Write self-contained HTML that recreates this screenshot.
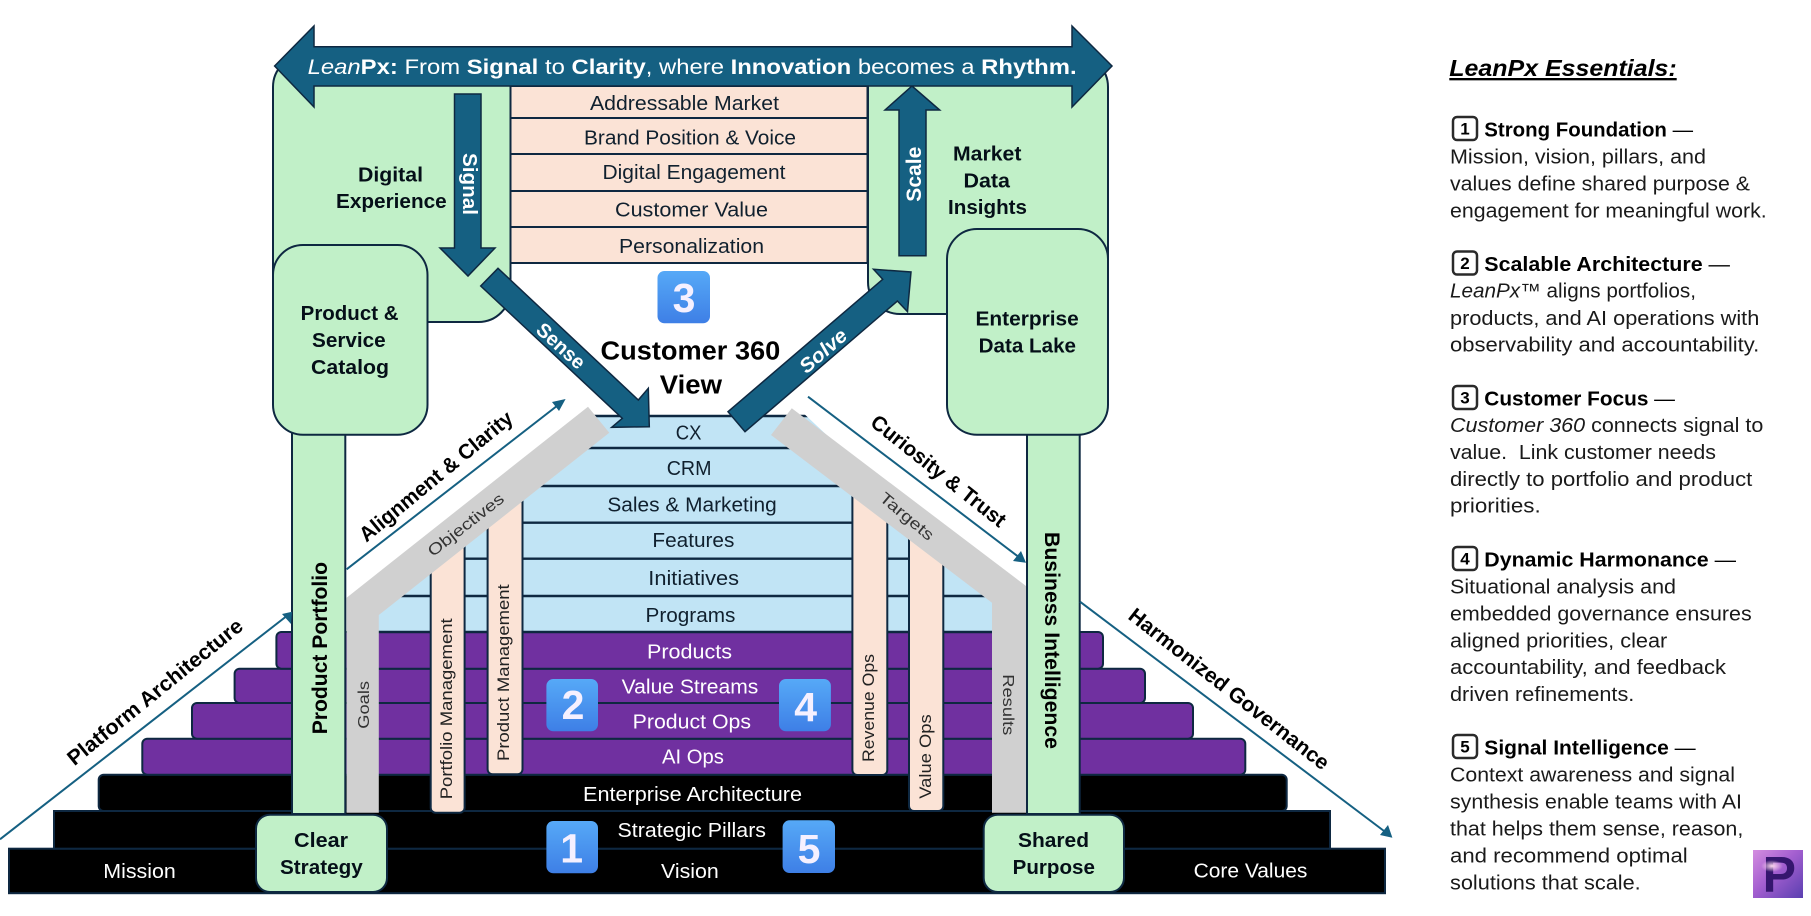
<!DOCTYPE html>
<html lang="en">
<head>
<meta charset="utf-8">
<title>LeanPx Essentials</title>
<style>
html,body{margin:0;padding:0;background:#fff;width:1811px;height:916px;overflow:hidden}
svg{display:block;filter:blur(.35px)}
text{font-family:"Liberation Sans",sans-serif}
.r{font-size:20px;fill:#10202e}
.w{font-size:20px;fill:#fff}
.b{font-size:20px;font-weight:700;fill:#050f18}
.box{fill:#c1f0c8;stroke:#0e2841;stroke-width:2}
.peach{fill:#fbe3d6;stroke:#0e2841;stroke-width:2}
.blue{fill:#c1e4f5}
.sep{stroke:#0e2841;stroke-width:2.4}
.pur{fill:#7030a0;stroke:#0e2841;stroke-width:2}
.blk{fill:#000;stroke:#0e2841;stroke-width:2}
.arr{fill:#156082;stroke:#0e2841;stroke-width:1.5}
.thin{stroke:#156082;stroke-width:2;fill:none}
.v{font-size:17px;fill:#222}
.g{font-size:16px;fill:#333}
.dg{font-size:41px;font-weight:700;fill:#f5f0ff;text-anchor:middle}
.dia{font-size:21px;font-weight:700;fill:#000;text-anchor:middle}
.p{font-size:20px;fill:#1a1a1a}
.h{font-size:20px;font-weight:700;fill:#000}
.ic{fill:#fff;stroke:#2a2a2a;stroke-width:2.5}
.in{font-size:17px;font-weight:700;text-anchor:middle;fill:#000}
</style>
</head>
<body>
<svg width="1811" height="916" viewBox="0 0 1811 916" xmlns="http://www.w3.org/2000/svg">
<defs>
<linearGradient id="bd" x1="0" y1="0" x2="0" y2="1"><stop offset="0" stop-color="#56a9f7"/><stop offset="1" stop-color="#3e7fe6"/></linearGradient>
<linearGradient id="lg" x1="0" y1="0" x2="1" y2="1"><stop offset="0" stop-color="#d48de0"/><stop offset="0.45" stop-color="#a45fd0"/><stop offset="1" stop-color="#5a3fb0"/></linearGradient>
<radialGradient id="glow" cx="0.5" cy="0.5" r="0.5"><stop offset="0" stop-color="#ffd9f0"/><stop offset="1" stop-color="#ffd9f0" stop-opacity="0"/></radialGradient>
<clipPath id="bc"><polygon points="590,410 800,410 992,590 992,640 378,640 378,600"/></clipPath>
</defs>

<!-- top boxes -->
<rect class="box" x="273" y="55" width="237.5" height="267" rx="32"/>
<rect class="box" x="868" y="55" width="240" height="259" rx="32"/>

<!-- peach rows -->
<rect class="peach" x="510.5" y="86" width="357" height="32"/>
<rect class="peach" x="510.5" y="118" width="357" height="36"/>
<rect class="peach" x="510.5" y="154" width="357" height="37"/>
<rect class="peach" x="510.5" y="191" width="357" height="36"/>
<rect class="peach" x="510.5" y="227" width="357" height="36"/>
<text class="r" x="590" y="110" textLength="189" lengthAdjust="spacingAndGlyphs">Addressable Market</text>
<text class="r" x="584" y="144.5" textLength="212" lengthAdjust="spacingAndGlyphs">Brand Position &amp; Voice</text>
<text class="r" x="602.5" y="179" textLength="183" lengthAdjust="spacingAndGlyphs">Digital Engagement</text>
<text class="r" x="615" y="216.5" textLength="153" lengthAdjust="spacingAndGlyphs">Customer Value</text>
<text class="r" x="619" y="253" textLength="145" lengthAdjust="spacingAndGlyphs">Personalization</text>

<!-- stairs -->
<rect class="blk" x="9" y="848.7" width="1376" height="44.5"/>
<rect class="blk" x="54" y="811" width="1276" height="37.7"/>
<rect class="blk" x="98.7" y="774.7" width="1188" height="36.3" rx="5"/>
<rect class="pur" x="142.3" y="738.7" width="1103" height="36" rx="5"/>
<rect class="pur" x="192" y="703" width="1001" height="35.7" rx="5"/>
<rect class="pur" x="234.6" y="668.7" width="910.4" height="34.3" rx="5"/>
<rect class="pur" x="276.4" y="632" width="826.6" height="36.7" rx="5"/>

<!-- blue rows -->
<g clip-path="url(#bc)">
<rect class="blue" x="378" y="416" width="614" height="216"/>
<line class="sep" x1="378" y1="416" x2="992" y2="416"/>
<line class="sep" x1="378" y1="448" x2="992" y2="448"/>
<line class="sep" x1="378" y1="486" x2="992" y2="486"/>
<line class="sep" x1="378" y1="522.7" x2="992" y2="522.7"/>
<line class="sep" x1="378" y1="558.7" x2="992" y2="558.7"/>
<line class="sep" x1="378" y1="596" x2="992" y2="596"/>
</g>
<line class="sep" x1="378" y1="632" x2="992" y2="632"/>

<text class="r" x="675.8" y="439.3" textLength="25.7" lengthAdjust="spacingAndGlyphs">CX</text>
<text class="r" x="666.7" y="475" textLength="44.8" lengthAdjust="spacingAndGlyphs">CRM</text>
<text class="r" x="607.4" y="511.7" textLength="169.3" lengthAdjust="spacingAndGlyphs">Sales &amp; Marketing</text>
<text class="r" x="652.4" y="547" textLength="82" lengthAdjust="spacingAndGlyphs">Features</text>
<text class="r" x="648.3" y="585" textLength="90.7" lengthAdjust="spacingAndGlyphs">Initiatives</text>
<text class="r" x="645.5" y="622" textLength="89.9" lengthAdjust="spacingAndGlyphs">Programs</text>
<text class="w" x="647" y="658.7" textLength="85" lengthAdjust="spacingAndGlyphs">Products</text>
<text class="w" x="621.7" y="693.3" textLength="136.6" lengthAdjust="spacingAndGlyphs">Value Streams</text>
<text class="w" x="632.7" y="728.3" textLength="118.3" lengthAdjust="spacingAndGlyphs">Product Ops</text>
<text class="w" x="662" y="763.7" textLength="61.9" lengthAdjust="spacingAndGlyphs">AI Ops</text>
<text class="w" x="583" y="801" textLength="219" lengthAdjust="spacingAndGlyphs">Enterprise Architecture</text>
<text class="w" x="617.5" y="837" textLength="148.5" lengthAdjust="spacingAndGlyphs">Strategic Pillars</text>
<text class="w" x="661" y="878" textLength="57.8" lengthAdjust="spacingAndGlyphs">Vision</text>
<text class="w" x="103.3" y="878" textLength="72.5" lengthAdjust="spacingAndGlyphs">Mission</text>
<text class="w" x="1193.6" y="877.7" textLength="113.8" lengthAdjust="spacingAndGlyphs">Core Values</text>

<!-- peach verticals -->
<rect class="peach" x="430.7" y="540" width="33.9" height="272.7" rx="5"/>
<rect class="peach" x="487.6" y="495" width="34.9" height="279.3" rx="5"/>
<rect class="peach" x="852.4" y="489" width="34.9" height="286" rx="5"/>
<rect class="peach" x="909" y="531" width="34.3" height="280" rx="5"/>
<text class="v" transform="translate(452,799.3) rotate(-90)" textLength="181" lengthAdjust="spacingAndGlyphs">Portfolio Management</text>
<text class="v" transform="translate(509,761) rotate(-90)" textLength="176.7" lengthAdjust="spacingAndGlyphs">Product Management</text>
<text class="v" transform="translate(874,762) rotate(-90)" textLength="108" lengthAdjust="spacingAndGlyphs">Revenue Ops</text>
<text class="v" transform="translate(931,798.7) rotate(-90)" textLength="84.4" lengthAdjust="spacingAndGlyphs">Value Ops</text>

<!-- gray roofs -->
<polygon points="588,406.7 609.3,432.7 378.8,615 378.8,812.7 346.6,812.7 346.6,597.7" fill="#d0d0d0"/>
<polygon points="791.8,408.3 1026,586 1026,812.7 992,812.7 992,602.7 771,435" fill="#d0d0d0"/>
<text class="g" transform="translate(466,525) rotate(-38)" text-anchor="middle" dy="5" textLength="92" lengthAdjust="spacingAndGlyphs">Objectives</text>
<text class="g" transform="translate(906.6,516.7) rotate(40)" text-anchor="middle" dy="5" textLength="65" lengthAdjust="spacingAndGlyphs">Targets</text>
<text class="g" transform="translate(369,728.7) rotate(-90)" textLength="47.7" lengthAdjust="spacingAndGlyphs">Goals</text>
<text class="g" transform="translate(1003,674.3) rotate(90)" textLength="61" lengthAdjust="spacingAndGlyphs">Results</text>

<!-- pillars -->
<rect class="box" x="292" y="430" width="53.3" height="384"/>
<rect class="box" x="1027" y="430" width="52.7" height="384"/>
<text style="font-size:21px;font-weight:700;fill:#000" transform="translate(327,734.3) rotate(-90)" textLength="172.3" lengthAdjust="spacingAndGlyphs">Product Portfolio</text>
<text style="font-size:21px;font-weight:700;fill:#000" transform="translate(1045,532) rotate(90)" textLength="217" lengthAdjust="spacingAndGlyphs">Business Intelligence</text>

<!-- green boxes -->
<rect class="box" x="273" y="245" width="154.5" height="189.7" rx="30"/>
<rect class="box" x="947" y="229" width="161" height="205.7" rx="30"/>
<rect class="box" x="256" y="814.7" width="131" height="77.3" rx="14"/>
<rect class="box" x="983.7" y="814.7" width="140.3" height="77.3" rx="14"/>

<text class="b" x="358" y="181.7" textLength="65" lengthAdjust="spacingAndGlyphs">Digital</text>
<text class="b" x="336" y="208" textLength="110.7" lengthAdjust="spacingAndGlyphs">Experience</text>
<text class="b" x="300.7" y="320" textLength="97.8" lengthAdjust="spacingAndGlyphs">Product &amp;</text>
<text class="b" x="312" y="347" textLength="73.7" lengthAdjust="spacingAndGlyphs">Service</text>
<text class="b" x="311" y="374" textLength="78" lengthAdjust="spacingAndGlyphs">Catalog</text>
<text class="b" x="953" y="160.7" textLength="68.4" lengthAdjust="spacingAndGlyphs">Market</text>
<text class="b" x="963.5" y="187.7" textLength="46.5" lengthAdjust="spacingAndGlyphs">Data</text>
<text class="b" x="948" y="214" textLength="79" lengthAdjust="spacingAndGlyphs">Insights</text>
<text class="b" x="975.5" y="325.7" textLength="103.3" lengthAdjust="spacingAndGlyphs">Enterprise</text>
<text class="b" x="978.7" y="352.7" textLength="97.3" lengthAdjust="spacingAndGlyphs">Data Lake</text>
<text class="b" x="294" y="847" textLength="54" lengthAdjust="spacingAndGlyphs">Clear</text>
<text class="b" x="280" y="874" textLength="82.7" lengthAdjust="spacingAndGlyphs">Strategy</text>
<text class="b" x="1018" y="847" textLength="71" lengthAdjust="spacingAndGlyphs">Shared</text>
<text class="b" x="1012.7" y="874" textLength="82.2" lengthAdjust="spacingAndGlyphs">Purpose</text>

<text style="font-size:25.5px;font-weight:700;fill:#000" x="600.5" y="359.3" textLength="179.8" lengthAdjust="spacingAndGlyphs">Customer 360</text>
<text style="font-size:25.5px;font-weight:700;fill:#000" x="659.8" y="393.3" textLength="62.2" lengthAdjust="spacingAndGlyphs">View</text>

<!-- big arrows -->
<polygon class="arr" points="454.5,94 481,94 481,248 495,248 468,276 440,248 454.5,248"/>
<polygon class="arr" points="899,255.7 926,255.7 926,110 939.7,110 912,86 885,110 899,110"/>
<polygon class="arr" points="498,268.3 638.3,400 648.3,388.3 649.3,426.7 611.7,427.3 622.3,418.3 480.7,286"/>
<polygon class="arr" points="728,411.7 882.7,279.3 873.5,269.3 911,272 907.5,311.7 897.4,301 745,431.7"/>
<polygon class="arr" points="274.6,66 314,26 314,46.7 1072,46.7 1072,26 1112,66 1072,107 1072,86 314,86 314,107"/>

<text style="font-size:20px;font-weight:700;fill:#fff" transform="translate(463,153) rotate(90)" textLength="62" lengthAdjust="spacingAndGlyphs">Signal</text>
<text style="font-size:21px;font-weight:700;fill:#fff" transform="translate(921,201.7) rotate(-90)" textLength="55" lengthAdjust="spacingAndGlyphs">Scale</text>
<text style="font-size:20px;font-weight:700;fill:#fff" transform="translate(561,345.7) rotate(42)" text-anchor="middle" dy="7" textLength="58" lengthAdjust="spacingAndGlyphs">Sense</text>
<text style="font-size:20px;font-weight:700;font-style:italic;fill:#fff" transform="translate(823,350.7) rotate(-41)" text-anchor="middle" dy="7" textLength="56" lengthAdjust="spacingAndGlyphs">Solve</text>

<text x="307.6" y="74" style="font-size:21.5px;fill:#fff" textLength="769" lengthAdjust="spacingAndGlyphs"><tspan font-style="italic">Lean</tspan><tspan font-weight="700">Px:</tspan> From <tspan font-weight="700">Signal</tspan> to <tspan font-weight="700">Clarity</tspan>, where <tspan font-weight="700">Innovation</tspan> becomes a <tspan font-weight="700">Rhythm.</tspan></text>

<!-- badges -->
<rect x="657.5" y="271" width="52.5" height="52.3" rx="7" fill="url(#bd)"/>
<text class="dg" x="684" y="312">3</text>
<rect x="546.4" y="679" width="51.6" height="52.3" rx="7" fill="url(#bd)"/>
<text class="dg" x="573" y="719">2</text>
<rect x="546.4" y="821" width="51.6" height="52.3" rx="7" fill="url(#bd)"/>
<text class="dg" x="571.6" y="862.7">1</text>
<rect x="779" y="679" width="51.9" height="52.3" rx="7" fill="url(#bd)"/>
<text class="dg" x="805.6" y="721">4</text>
<rect x="782.6" y="820.3" width="52.4" height="52.7" rx="7" fill="url(#bd)"/>
<text class="dg" x="809" y="863">5</text>

<!-- thin diagonal arrows -->
<line class="thin" x1="0" y1="839.3" x2="288" y2="615"/>
<polygon points="292,611.7 291,624 282,614" fill="#156082"/>
<line class="thin" x1="346.6" y1="569.3" x2="562" y2="402"/>
<polygon points="565.6,399 559,411 552,402" fill="#156082"/>
<line class="thin" x1="808" y1="396.7" x2="1022" y2="559.5"/>
<polygon points="1026,562.7 1013,561 1021,551" fill="#156082"/>
<line class="thin" x1="1080" y1="601.7" x2="1388" y2="834"/>
<polygon points="1392.4,837.7 1380,835 1388,825" fill="#156082"/>

<text class="dia" transform="translate(155,692) rotate(-39)" dy="7" textLength="219" lengthAdjust="spacingAndGlyphs">Platform Architecture</text>
<text class="dia" transform="translate(436,476.4) rotate(-39.5)" dy="7" textLength="192" lengthAdjust="spacingAndGlyphs">Alignment &amp; Clarity</text>
<text class="dia" transform="translate(938.5,471) rotate(38.5)" dy="7" textLength="166" lengthAdjust="spacingAndGlyphs">Curiosity &amp; Trust</text>
<text class="dia" transform="translate(1229,689) rotate(38)" dy="7" textLength="248" lengthAdjust="spacingAndGlyphs">Harmonized Governance</text>

<!-- right panel -->
<text x="1449.3" y="76" style="font-size:23.5px;font-weight:700;font-style:italic;text-decoration:underline;fill:#000" textLength="227.4" lengthAdjust="spacingAndGlyphs">LeanPx Essentials:</text>

<rect class="ic" x="1453" y="117" width="24" height="23" rx="4"/><text class="in" x="1465" y="134.5">1</text>
<text class="h" x="1484.3" y="136.7" textLength="208.7" lengthAdjust="spacingAndGlyphs">Strong Foundation <tspan font-weight="400">—</tspan></text>
<text class="p" x="1450" y="163.3" textLength="256" lengthAdjust="spacingAndGlyphs">Mission, vision, pillars, and</text>
<text class="p" x="1450" y="190.3" textLength="300" lengthAdjust="spacingAndGlyphs">values define shared purpose &amp;</text>
<text class="p" x="1450" y="217.3" textLength="316.7" lengthAdjust="spacingAndGlyphs">engagement for meaningful work.</text>

<rect class="ic" x="1453" y="251.5" width="24" height="23" rx="4"/><text class="in" x="1465" y="269">2</text>
<text class="h" x="1484.3" y="271" textLength="245.7" lengthAdjust="spacingAndGlyphs">Scalable Architecture <tspan font-weight="400">—</tspan></text>
<text class="p" x="1450" y="297.7" textLength="246" lengthAdjust="spacingAndGlyphs"><tspan font-style="italic">LeanPx™</tspan> aligns portfolios,</text>
<text class="p" x="1450" y="325" textLength="309.3" lengthAdjust="spacingAndGlyphs">products, and AI operations with</text>
<text class="p" x="1450" y="351.7" textLength="309.3" lengthAdjust="spacingAndGlyphs">observability and accountability.</text>

<rect class="ic" x="1453" y="386" width="24" height="23" rx="4"/><text class="in" x="1465" y="403.5">3</text>
<text class="h" x="1484.3" y="405.3" textLength="190.7" lengthAdjust="spacingAndGlyphs">Customer Focus <tspan font-weight="400">—</tspan></text>
<text class="p" x="1450" y="432" textLength="313.3" lengthAdjust="spacingAndGlyphs"><tspan font-style="italic">Customer 360</tspan> connects signal to</text>
<text class="p" x="1450" y="459" textLength="266" lengthAdjust="spacingAndGlyphs" xml:space="preserve">value.  Link customer needs</text>
<text class="p" x="1450" y="486" textLength="302.3" lengthAdjust="spacingAndGlyphs">directly to portfolio and product</text>
<text class="p" x="1450" y="512.7" textLength="90.7" lengthAdjust="spacingAndGlyphs">priorities.</text>

<rect class="ic" x="1453" y="547" width="24" height="23" rx="4"/><text class="in" x="1465" y="564.5">4</text>
<text class="h" x="1484.3" y="566.7" textLength="251.7" lengthAdjust="spacingAndGlyphs">Dynamic Harmonance <tspan font-weight="400">—</tspan></text>
<text class="p" x="1450" y="593.3" textLength="226" lengthAdjust="spacingAndGlyphs">Situational analysis and</text>
<text class="p" x="1450" y="620.3" textLength="301.7" lengthAdjust="spacingAndGlyphs">embedded governance ensures</text>
<text class="p" x="1450" y="647.3" textLength="217.3" lengthAdjust="spacingAndGlyphs">aligned priorities, clear</text>
<text class="p" x="1450" y="674" textLength="276" lengthAdjust="spacingAndGlyphs">accountability, and feedback</text>
<text class="p" x="1450" y="701" textLength="184.3" lengthAdjust="spacingAndGlyphs">driven refinements.</text>

<rect class="ic" x="1453" y="735" width="24" height="23" rx="4"/><text class="in" x="1465" y="752.5">5</text>
<text class="h" x="1484.3" y="754.3" textLength="211.4" lengthAdjust="spacingAndGlyphs">Signal Intelligence <tspan font-weight="400">—</tspan></text>
<text class="p" x="1450" y="781.7" textLength="285" lengthAdjust="spacingAndGlyphs">Context awareness and signal</text>
<text class="p" x="1450" y="808.7" textLength="292" lengthAdjust="spacingAndGlyphs">synthesis enable teams with AI</text>
<text class="p" x="1450" y="835.7" textLength="293.3" lengthAdjust="spacingAndGlyphs">that helps them sense, reason,</text>
<text class="p" x="1450" y="862.3" textLength="237.7" lengthAdjust="spacingAndGlyphs">and recommend optimal</text>
<text class="p" x="1450" y="889.3" textLength="190.7" lengthAdjust="spacingAndGlyphs">solutions that scale.</text>

<!-- logo -->
<rect x="1753" y="850" width="50" height="48" fill="url(#lg)"/>
<text x="1762.6" y="891.7" style="font-size:50px;font-weight:700;fill:#35166e">P</text>
<ellipse cx="1772" cy="866" rx="11" ry="6" fill="url(#glow)"/>
</svg>
</body>
</html>
